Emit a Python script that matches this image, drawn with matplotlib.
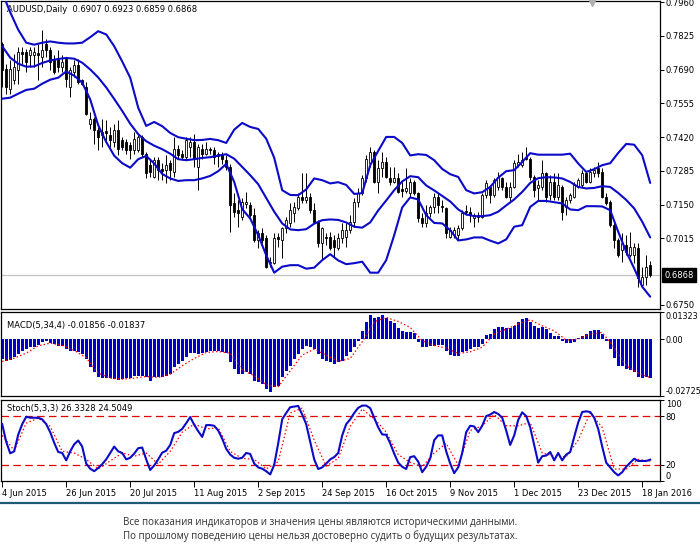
import matplotlib
matplotlib.use('Agg')
import matplotlib.pyplot as plt
from matplotlib.lines import Line2D
import matplotlib.transforms as mtransforms

# ---------------- data ----------------
symbol_header = "AUDUSD,Daily  0.6907 0.6923 0.6859 0.6868"
macd_header = "MACD(5,34,4) -0.01856 -0.01837"
stoch_header = "Stoch(5,3,3) 26.3328 24.5049"
last_price = 0.6868

opens = [
    .7794, .7694, .7614, .7647, .7687, .7761, .7761, .7747, .7747, .7757,
    .7741, .7794, .7767, .7727, .7734, .7701, .7734, .7621, .7681, .7707,
    .7647, .7621, .7474, .7494, .7448, .7428, .7444, .7428, .7401, .7448,
    .7408, .7401, .7388, .7368, .7368, .7421, .7354, .7308, .7261, .7330,
    .7291, .7288, .7315, .7281, .7374, .7354, .7341, .7381, .7401, .7301,
    .7374, .7354, .7374, .7368, .7345, .7354, .7328, .7301, .7155, .7128,
    .7101, .7152, .7148, .7108, .7008, .7035, .7015, .6915, .6915, .7019,
    .7008, .7055, .7075, .7115, .7135, .7181, .7168, .7181, .7128, .7082,
    .6995, .7022, .7022, .7008, .6975, .7015, .7022, .7048, .7082, .7161,
    .7195, .7255, .7315, .7361, .7241, .7295, .7321, .7255, .7241, .7255,
    .7211, .7205, .7195, .7241, .7195, .7095, .7075, .7115, .7141, .7181,
    .7144, .7135, .7022, .7028, .7028, .7055, .7124, .7121, .7095, .7108,
    .7101, .7188, .7221, .7188, .7221, .7255, .7221, .7181, .7221, .7308,
    .7308, .7341, .7334, .7261, .7215, .7221, .7275, .7188, .7241, .7181,
    .7221, .7141, .7168, .7181, .7221, .7228, .7275, .7241, .7275, .7295,
    .7281, .7181, .7161, .7068, .7008, .6968, .6988, .6948, .6948, .6975,
    .6829, .6862, .6907]

highs = [
    .7800, .7714, .7727, .7754, .7780, .7780, .7774, .7780, .7780, .7794,
    .7847, .7814, .7780, .7747, .7767, .7747, .7741, .7701, .7727, .7734,
    .7654, .7641, .7521, .7501, .7461, .7494, .7488, .7461, .7474, .7488,
    .7421, .7414, .7401, .7441, .7428, .7428, .7361, .7328, .7341, .7341,
    .7315, .7348, .7328, .7421, .7388, .7368, .7421, .7421, .7434, .7394,
    .7394, .7401, .7381, .7381, .7361, .7361, .7348, .7314, .7195, .7168,
    .7175, .7201, .7161, .7135, .7048, .7055, .7028, .6942, .7035, .7035,
    .7062, .7101, .7155, .7161, .7195, .7275, .7275, .7195, .7155, .7088,
    .7062, .7035, .7042, .7028, .7035, .7075, .7075, .7108, .7175, .7215,
    .7268, .7348, .7381, .7368, .7328, .7361, .7341, .7301, .7301, .7275,
    .7241, .7295, .7255, .7248, .7201, .7115, .7148, .7148, .7195, .7195,
    .7168, .7141, .7062, .7062, .7068, .7128, .7148, .7141, .7115, .7121,
    .7195, .7248, .7228, .7255, .7281, .7261, .7241, .7241, .7328, .7354,
    .7361, .7381, .7341, .7268, .7248, .7328, .7281, .7268, .7275, .7275,
    .7228, .7181, .7195, .7241, .7255, .7288, .7281, .7295, .7301, .7321,
    .7295, .7195, .7168, .7075, .7015, .7035, .7028, .7042, .6995, .6995,
    .6902, .6948, .6923]

lows = [
    .7621, .7594, .7594, .7634, .7634, .7714, .7681, .7701, .7701, .7647,
    .7701, .7741, .7687, .7674, .7681, .7681, .7621, .7581, .7661, .7634,
    .7627, .7508, .7454, .7394, .7368, .7381, .7401, .7381, .7381, .7348,
    .7368, .7354, .7334, .7354, .7361, .7341, .7255, .7261, .7255, .7248,
    .7248, .7235, .7248, .7261, .7334, .7328, .7328, .7341, .7301, .7208,
    .7334, .7348, .7354, .7314, .7301, .7314, .7288, .7042, .7101, .7062,
    .7088, .7135, .7101, .7002, .6975, .6995, .6895, .6902, .6912, .6982,
    .6935, .7035, .7062, .7082, .7128, .7155, .7155, .7115, .7075, .6982,
    .6928, .6988, .6968, .6942, .6968, .6995, .6982, .7035, .7062, .7141,
    .7188, .7241, .7301, .7235, .7195, .7261, .7255, .7228, .7235, .7195,
    .7181, .7195, .7181, .7188, .7082, .7062, .7062, .7101, .7115, .7115,
    .7121, .7015, .7015, .7015, .7008, .7048, .7108, .7082, .7062, .7082,
    .7095, .7175, .7155, .7181, .7208, .7208, .7175, .7161, .7215, .7301,
    .7301, .7328, .7248, .7181, .7168, .7208, .7161, .7168, .7168, .7168,
    .7088, .7108, .7155, .7175, .7215, .7221, .7235, .7235, .7261, .7261,
    .7175, .7148, .7062, .6975, .6942, .6922, .6948, .6942, .6915, .6822,
    .6822, .6829, .6859]

closes = [
    .7687, .7621, .7694, .7701, .7761, .7751, .7721, .7767, .7761, .7750,
    .7767, .7767, .7721, .7681, .7701, .7721, .7654, .7687, .7707, .7641,
    .7634, .7514, .7494, .7448, .7421, .7441, .7438, .7408, .7448, .7374,
    .7381, .7368, .7368, .7414, .7421, .7354, .7275, .7281, .7328, .7288,
    .7285, .7308, .7288, .7374, .7348, .7341, .7408, .7401, .7334, .7381,
    .7354, .7374, .7370, .7341, .7352, .7334, .7301, .7148, .7121, .7115,
    .7161, .7161, .7108, .7008, .7035, .7008, .6902, .6922, .7015, .7011,
    .7055, .7088, .7128, .7141, .7181, .7168, .7181, .7128, .7082, .6995,
    .7055, .7015, .6975, .6982, .7015, .7048, .7048, .7082, .7161, .7195,
    .7255, .7334, .7361, .7241, .7295, .7321, .7261, .7241, .7255, .7201,
    .7203, .7215, .7241, .7195, .7095, .7075, .7115, .7141, .7181, .7148,
    .7139, .7035, .7048, .7048, .7055, .7115, .7119, .7108, .7108, .7101,
    .7188, .7235, .7188, .7248, .7261, .7221, .7181, .7221, .7315, .7321,
    .7328, .7333, .7261, .7208, .7228, .7275, .7181, .7241, .7181, .7228,
    .7121, .7168, .7188, .7228, .7248, .7275, .7241, .7281, .7288, .7275,
    .7181, .7155, .7068, .7008, .6948, .6995, .6962, .6982, .6982, .6855,
    .6862, .6902, .6868]

# Bollinger bands, read every 2nd bar
bb_bars = list(range(0, 163, 2))
bb_upper = [
    .7999, .7920, .7850, .7798, .7790, .7798, .7803, .7798, .7795, .7795,
    .7798, .7820, .7844, .7831, .7784, .7723, .7658, .7538, .7465, .7481,
    .7464, .7437, .7420, .7414, .7408, .7409, .7413, .7408, .7397, .7450,
    .7477, .7461, .7453, .7414, .7338, .7208, .7189, .7188, .7211, .7255,
    .7248, .7235, .7240, .7229, .7193, .7196, .7308, .7365, .7421, .7421,
    .7397, .7347, .7352, .7349, .7328, .7293, .7272, .7261, .7208, .7195,
    .7200, .7221, .7258, .7284, .7288, .7321, .7356, .7350, .7350, .7350,
    .7350, .7354, .7315, .7281, .7292, .7308, .7316, .7357, .7393, .7390,
    .7348, .7237]
bb_middle = [
    .7784, .7738, .7714, .7702, .7703, .7717, .7727, .7733, .7737, .7734,
    .7718, .7691, .7659, .7619, .7573, .7525, .7474, .7432, .7404, .7386,
    .7372, .7354, .7332, .7328, .7332, .7337, .7340, .7346, .7352, .7334,
    .7301, .7268, .7232, .7177, .7122, .7075, .7051, .7048, .7052, .7074,
    .7088, .7091, .7089, .7079, .7062, .7058, .7079, .7127, .7167, .7208,
    .7243, .7264, .7260, .7227, .7207, .7185, .7163, .7131, .7111, .7104,
    .7104, .7108, .7122, .7147, .7171, .7201, .7237, .7256, .7260, .7259,
    .7255, .7241, .7221, .7215, .7217, .7224, .7221, .7197, .7169, .7135,
    .7082, .7019]
bb_lower = [
    .7574, .7578, .7594, .7609, .7614, .7634, .7650, .7658, .7683, .7666,
    .7638, .7571, .7468, .7401, .7346, .7316, .7298, .7332, .7345, .7315,
    .7273, .7255, .7245, .7248, .7248, .7255, .7265, .7284, .7313, .7241,
    .7132, .7095, .7028, .6948, .6878, .6902, .6908, .6908, .6894, .6898,
    .6928, .6952, .6927, .6912, .6916, .6922, .6878, .6878, .6928, .7028,
    .7139, .7179, .7171, .7108, .7077, .7075, .7048, .7007, .7011, .7019,
    .7019, .7006, .6995, .7011, .7062, .7068, .7141, .7165, .7165, .7160,
    .7155, .7131, .7128, .7144, .7144, .7143, .7128, .7042, .6962, .6895,
    .6822, .6782]

macd_hist = [
    -0.00948, -0.01028, -0.00996, -0.00868, -0.00707, -0.00546, -0.00466, -0.00386, -0.00386, -0.00257,
    -0.00145, -0.00064, -0.00177, -0.00225, -0.00305, -0.00305, -0.00466, -0.00546, -0.00546, -0.00627,
    -0.00707, -0.00948, -0.01350, -0.01591, -0.01832, -0.01880, -0.01880, -0.01864, -0.01912, -0.01944,
    -0.01912, -0.01880, -0.01880, -0.01784, -0.01752, -0.01784, -0.01832, -0.01993, -0.01832, -0.01832,
    -0.01832, -0.01752, -0.01671, -0.01350, -0.01189, -0.01028, -0.00868, -0.00659, -0.00659, -0.00707,
    -0.00659, -0.00595, -0.00546, -0.00546, -0.00546, -0.00595, -0.00659, -0.01109, -0.01430, -0.01671,
    -0.01671, -0.01591, -0.01671, -0.01993, -0.02073, -0.02153, -0.02394, -0.02555, -0.02314, -0.02234,
    -0.01832, -0.01511, -0.01269, -0.00948, -0.00707, -0.00466, -0.00305, -0.00386, -0.00466, -0.00707,
    -0.00948, -0.01028, -0.01109, -0.01189, -0.01109, -0.01028, -0.00820, -0.00595, -0.00386, -0.00064,
    0.00386, 0.00852, 0.01173, 0.01012, 0.01093, 0.01173, 0.01028, 0.00868, 0.00787, 0.00530,
    0.00418, 0.00370, 0.00370, 0.00289, -0.00112, -0.00386, -0.00386, -0.00305, -0.00305, -0.00273,
    -0.00273, -0.00546, -0.00755, -0.00820, -0.00820, -0.00595, -0.00546, -0.00466, -0.00386, -0.00386,
    -0.00225, 0.00209, 0.00257, 0.00498, 0.00611, 0.00579, 0.00530, 0.00530, 0.00659, 0.00820,
    0.00980, 0.01028, 0.00852, 0.00659, 0.00530, 0.00579, 0.00498, 0.00289, 0.00177, 0.00145,
    -0.00064, -0.00193, -0.00193, -0.00112, 0.00048, 0.00145, 0.00257, 0.00418, 0.00450, 0.00450,
    0.00257, -0.00064, -0.00466, -0.00900, -0.01269, -0.01302, -0.01430, -0.01462, -0.01591, -0.01832,
    -0.01880, -0.01832, -0.01856]

sig_bars = list(range(0, 163, 3))
macd_signal = [
    -0.01061, -0.00900, -0.00659, -0.00305, -0.00177, -0.00289, -0.00530, -0.00884, -0.01623, -0.01864,
    -0.01912, -0.01864, -0.01784, -0.01832, -0.01671, -0.01269, -0.00916, -0.00627, -0.00579, -0.00659,
    -0.01462, -0.01752, -0.02186, -0.02282, -0.01511, -0.00755, -0.00466, -0.00755, -0.01061, -0.00916,
    -0.00112, 0.00852, 0.01061, 0.00868, 0.00579, -0.00064, -0.00289, -0.00418, -0.00675, -0.00595,
    -0.00370, 0.00257, 0.00498, 0.00739, 0.00948, 0.00659, 0.00418, -0.00032, 0.00016, 0.00257,
    0.00337, -0.00386, -0.01269, -0.01623, -0.01837]

stoch_main = [
    70.2, 48.4, 34.2, 36.6, 57.1, 70.2, 79.3, 78.1, 78.1, 78.1,
    76.1, 70.2, 60.3, 47.2, 35.8, 34.6, 25.5, 36.6, 45.3, 50.0,
    42.5, 21.5, 15.2, 12.1, 16.0, 20.8, 26.7, 34.6, 42.5, 36.6,
    34.6, 26.7, 28.7, 33.8, 40.5, 41.3, 26.7, 13.6, 19.2, 26.7,
    35.0, 37.4, 44.5, 59.1, 60.7, 64.3, 71.4, 78.9, 69.4, 61.5,
    54.4, 69.0, 69.0, 68.2, 62.3, 52.4, 39.7, 32.6, 28.7, 27.5,
    28.7, 34.6, 33.4, 21.5, 16.8, 15.2, 12.1, 8.1, 20.0, 46.5,
    76.1, 84.0, 91.1, 91.9, 92.7, 82.0, 70.2, 48.4, 26.7, 14.8,
    16.8, 21.5, 26.7, 29.5, 34.6, 56.3, 70.2, 76.1, 84.0, 90.3,
    93.1, 93.1, 89.9, 78.1, 66.2, 57.5, 57.1, 46.5, 33.8, 22.7,
    17.6, 14.8, 29.5, 30.6, 23.9, 10.9, 17.6, 27.9, 50.4, 56.3,
    56.3, 36.6, 21.5, 9.7, 16.8, 34.6, 60.3, 68.2, 67.4, 60.3,
    68.2, 80.1, 82.0, 85.2, 82.8, 78.1, 62.3, 44.5, 56.3, 75.3,
    84.8, 80.1, 66.2, 44.5, 22.7, 30.6, 31.4, 35.8, 25.5, 34.6,
    25.5, 32.6, 35.8, 54.4, 72.2, 85.2, 86.0, 85.2, 78.1, 64.3,
    42.5, 22.7, 16.8, 10.9, 6.9, 10.9, 17.6, 22.7, 27.5, 24.7,
    24.7, 24.7, 26.3328]

stoch_signal = [
    56.3, 37.8, 71.4, 77.7, 67.4, 36.6, 34.6, 26.7, 14.8, 24.7,
    34.6, 30.6, 34.6, 20.8, 36.6, 60.3, 70.2, 64.3, 65.8, 36.6,
    27.9, 26.7, 14.8, 23.9, 84.0, 89.9, 50.4, 18.4, 27.9, 67.4,
    88.8, 76.9, 60.3, 32.6, 23.1, 17.6, 34.6, 46.5, 19.6, 62.3,
    68.2, 82.0, 68.2, 68.2, 72.2, 34.6, 30.6, 29.9, 50.4, 84.0,
    66.2, 14.8, 14.8, 26.7, 24.5049]

price_ticks = [0.7960, 0.7825, 0.7690, 0.7555, 0.7420, 0.7285, 0.7150, 0.7015, 0.6750]
macd_ticks = [0.01323, 0.0, -0.02725]
macd_tick_labels = ['0.01323', '0.00', '-0.02725']
stoch_ticks = [100, 80, 20, 0]
stoch_levels = [80, 20]
date_tick_bars = [0, 16, 32, 48, 64, 80, 96, 112, 128, 144, 160]
date_labels = ['4 Jun 2015', '26 Jun 2015', '20 Jul 2015', '11 Aug 2015', '2 Sep 2015',
               '24 Sep 2015', '16 Oct 2015', '9 Nov 2015', '1 Dec 2015', '23 Dec 2015',
               '18 Jan 2016']
footer_lines = ["Все показания индикаторов и значения цены являются историческими данными.",
                "По прошлому поведению цены нельзя достоверно судить о будущих результатах."]

# ---------------- figure ----------------
W, H = 700, 552
fig = plt.figure(figsize=(W / 100, H / 100), dpi=100)
fig.patch.set_facecolor('white')
plt.rcParams['font.family'] = ['DejaVu Sans']

def px_axes(x0, y0, x1, y1):
    return fig.add_axes([x0 / W, 1 - y1 / H, (x1 - x0) / W, (y1 - y0) / H])

ax1 = px_axes(0.5, 0.5, 660, 309)
ax2 = px_axes(0.5, 312, 660, 396)
ax3 = px_axes(0.5, 400, 660, 481)

n = len(closes)
xs = list(range(n))
XLIM = (-0.425, 164.45)
BLUE = '#0a0ac8'
FS = 6

for ax in (ax1, ax2, ax3):
    ax.set_xlim(*XLIM)
    for s in ax.spines.values():
        s.set_linewidth(0.9)
        s.set_color('black')
    ax.yaxis.tick_right()
    ax.tick_params(axis='y', direction='out', length=3, width=0.7, labelsize=FS, pad=1.2,
                   left=False, labelleft=False, right=True, labelright=True)
    ax.tick_params(axis='x', bottom=False, labelbottom=False)
    ax.set_facecolor('white')

# ---- main price panel ----
ax1.set_ylim(0.67327, 0.79668)
ax1.set_yticks(price_ticks)
ax1.set_yticklabels(['%.4f' % v for v in price_ticks])
ax1.axhline(last_price, color='#c0c0c0', lw=0.9, zorder=1)

ax1.vlines(xs, lows, highs, color='black', lw=0.7, zorder=2)
body_bottom = [min(o, c) for o, c in zip(opens, closes)]
body_h = [max(abs(c - o), 0.00004) for o, c in zip(opens, closes)]
fills = ['white' if c >= o else 'black' for o, c in zip(opens, closes)]
ax1.bar(xs, body_h, bottom=body_bottom, width=0.6, color=fills, edgecolor='black',
        linewidth=0.6, zorder=3)

for band in (bb_upper, bb_middle, bb_lower):
    ax1.plot(bb_bars, band, color=BLUE, lw=1.5, zorder=4, solid_joinstyle='round',
             solid_capstyle='round')

ax1.text(0.0095, 0.972, symbol_header, transform=ax1.transAxes, fontsize=FS,
         ha='left', va='center', color='black', zorder=1)

trans = mtransforms.blended_transform_factory(ax1.transAxes, ax1.transData)
ax1.text(1.0 + 4.5 / 659.5, last_price, '%.4f' % last_price, transform=trans,
         fontsize=FS, color='white', ha='left', va='center', clip_on=False,
         bbox=dict(boxstyle='square,pad=0.28', fc='black', ec='black'), zorder=10)
ax1.plot([0.8975], [0.992], marker='v', color='#b0b0b0', markersize=5,
         transform=ax1.transAxes, clip_on=False, zorder=5)

# ---- MACD panel ----
ax2.set_ylim(-0.02725, 0.01323)
ax2.bar(xs, macd_hist, width=0.72, color='#0000cd', linewidth=0, zorder=2)
ax2.plot(sig_bars, macd_signal, color='red', lw=0.9, ls=(0, (1.2, 1.8)), zorder=3)
ax2.set_yticks(macd_ticks)
ax2.set_yticklabels(macd_tick_labels)
tl = ax2.get_yticklabels()
tl[0].set_va('top')
tl[-1].set_va('bottom')
ax2.tick_params(axis='y', labelsize=5.8, pad=0.8)
ax2.text(0.0095, 0.84, macd_header, transform=ax2.transAxes, fontsize=FS,
         ha='left', va='center', color='black')

# ---- Stochastic panel ----
ax3.set_ylim(0, 100)
for lv in stoch_levels:
    ax3.axhline(lv, color='#e00000', lw=0.9, ls=(0, (6, 3.5)), zorder=1)
ax3.plot(sig_bars, stoch_signal, color='red', lw=0.9, ls=(0, (1.2, 1.8)), zorder=2)
ax3.plot(xs, stoch_main, color=BLUE, lw=1.5, zorder=3, solid_joinstyle='round')
ax3.set_yticks(stoch_ticks)
ax3.set_yticklabels([str(v) for v in stoch_ticks])
tl = ax3.get_yticklabels()
tl[0].set_va('top')
tl[-1].set_va('bottom')
ax3.text(0.0095, 0.89, stoch_header, transform=ax3.transAxes, fontsize=FS,
         ha='left', va='center', color='black')

ax3.set_xticks(date_tick_bars)
ax3.set_xticklabels(date_labels)
ax3.tick_params(axis='x', bottom=True, labelbottom=True, direction='out', length=4,
                width=0.7, labelsize=FS, pad=1.5)
for lab in ax3.get_xticklabels():
    lab.set_ha('left')

# ---- footer ----
fig.add_artist(Line2D([0, 1], [1 - 502.7 / H] * 2, color='#1c5a72', lw=1.6))
fig.text(320 / W, 1 - 523 / H, footer_lines[0], ha='center', va='center',
         fontsize=7, color='#303030', family=['Open Sans', 'DejaVu Sans'])
fig.text(320 / W, 1 - 536 / H, footer_lines[1], ha='center', va='center',
         fontsize=7, color='#303030', family=['Open Sans', 'DejaVu Sans'])

fig.savefig('out.png', dpi=100, facecolor='white')
